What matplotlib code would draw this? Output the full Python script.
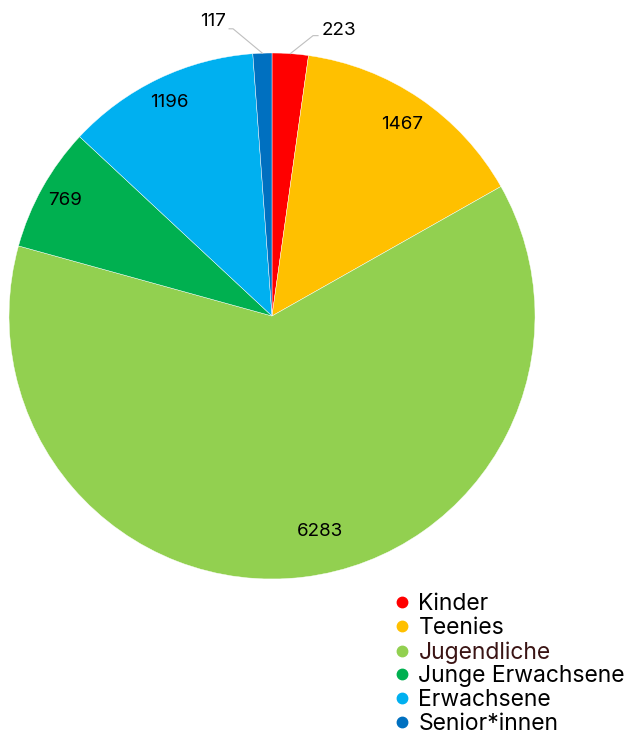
import numpy as np
import matplotlib.pyplot as plt
from matplotlib.lines import Line2D

# data
categories = ['Kinder', 'Teenies', 'Jugendliche', 'Junge Erwachsene', 'Erwachsene', 'Senior*innen']
values = [223, 1467, 6283, 769, 1196, 117]
colors = ['#FF0000', '#FFC000', '#92D050', '#00B050', '#00B0F0', '#0070C0']

plt.rcParams['font.family'] = ['Inter', 'DejaVu Sans']

fig = plt.figure(figsize=(6.36, 7.35), dpi=100)
W, H = 636, 735
cx, cy, R = 272, 316, 263
ax = fig.add_axes([(cx - R) / W, (H - cy - R) / H, 2 * R / W, 2 * R / H])

wedges, _ = ax.pie(values, colors=colors, startangle=90, counterclock=False,
                   radius=1, wedgeprops=dict(edgecolor='white', linewidth=0.3))
ax.set_xlim(-1, 1)
ax.set_ylim(-1, 1)
ax.set_aspect('equal')
ax.axis('off')

# inside labels: radius factor and angle shift per wedge, None -> outside
inside_r = [None, 0.88, 0.84, 0.90, 0.90, None]
shift = [0, 0, 5.5, 0, 0, 0]
for w, v, r, s in zip(wedges, values, inside_r, shift):
    mid = np.deg2rad((w.theta1 + w.theta2) / 2 + s)
    if r is not None:
        ax.text(r * np.cos(mid), r * np.sin(mid), str(v), ha='center', va='center',
                fontsize=13.5, color='black')

# outside labels with leader lines
def outside(w, v, elbow, end, txt, ha):
    mid = np.deg2rad((w.theta1 + w.theta2) / 2)
    x0, y0 = np.cos(mid), np.sin(mid)
    ax.plot([x0, elbow[0], end[0]], [y0, elbow[1], end[1]], color='#BFBFBF',
            linewidth=0.8, clip_on=False)
    ax.text(txt[0], txt[1], str(v), ha=ha, va='center', fontsize=13.5, color='black')

outside(wedges[0], values[0], (0.156, 1.066), (0.175, 1.066), (0.19, 1.087), 'left')
outside(wedges[5], values[5], (-0.148, 1.092), (-0.163, 1.092), (-0.175, 1.118), 'right')

handles = [Line2D([0], [0], marker='o', linestyle='none', markersize=7.5,
                  markerfacecolor=c, markeredgecolor=c) for c in colors]
leg = fig.legend(handles, categories, loc='upper left',
                 bbox_to_anchor=(384 / W, 1 - 582 / H), frameon=False,
                 fontsize=16.5, borderpad=0, handlelength=0.6, handletextpad=0.4,
                 labelspacing=0.08)
leg.get_texts()[2].set_color('#3A1414')

fig.savefig('out.png', dpi=100)
